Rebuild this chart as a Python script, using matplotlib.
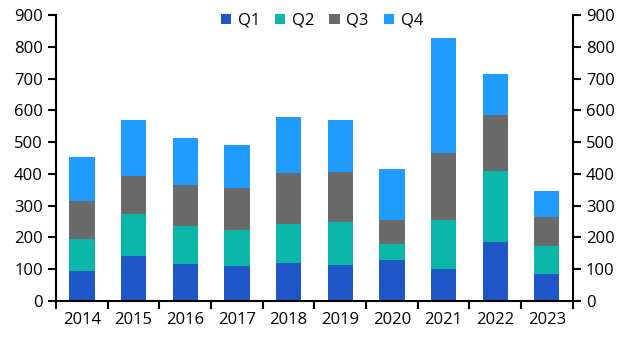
import numpy as np
import matplotlib.pyplot as plt

plt.rcParams['font.family'] = ['Open Sans', 'DejaVu Sans']

years = ["2014", "2015", "2016", "2017", "2018", "2019", "2020", "2021", "2022", "2023"]
q1 = [94, 142, 116, 110, 120, 113, 129, 101, 186, 85]
q2 = [101, 132, 120, 113, 122, 136, 50, 154, 223, 88]
q3 = [120, 119, 129, 133, 161, 157, 76, 211, 176, 91]
q4 = [138, 177, 148, 135, 176, 164, 160, 362, 129, 82]

series = [("Q1", q1, "#1f57c8"), ("Q2", q2, "#0bb7a9"),
          ("Q3", q3, "#6a6a6a"), ("Q4", q4, "#209bff")]

fig = plt.figure(figsize=(6.3, 3.5), dpi=100)
ax = fig.add_axes([0.089, 0.14, 0.82, 0.817])

x = np.arange(len(years))
bottom = np.zeros(len(years))
for name, vals, col in series:
    ax.bar(x, vals, 0.49, bottom=bottom, color=col, label=name)
    bottom += np.array(vals)

ax.set_xlim(-0.5, len(years) - 0.5)
ax.set_ylim(0, 900)
ax.set_yticks(range(0, 901, 100))
ax.set_xticks(x)
ax.set_xticklabels(years)
ax.set_xticks(np.arange(-0.5, len(years), 1), minor=True)
ax.tick_params(axis='x', which='major', length=0, pad=8, labelsize=12)
ax.tick_params(axis='x', which='minor', length=6, width=1.5, direction='out')
ax.tick_params(axis='y', length=6, width=1.5, direction='out', labelsize=12,
               left=True, right=True, labelleft=True, labelright=True)

for s in ['left', 'right', 'bottom']:
    ax.spines[s].set_linewidth(1.5)
ax.spines['top'].set_visible(False)

ax.legend(loc='upper center', ncol=4, frameon=False, fontsize=12,
          handlelength=0.62, handleheight=0.62, handletextpad=0.4,
          columnspacing=0.9, bbox_to_anchor=(0.515, 1.06))

fig.savefig("out.png", dpi=100)
